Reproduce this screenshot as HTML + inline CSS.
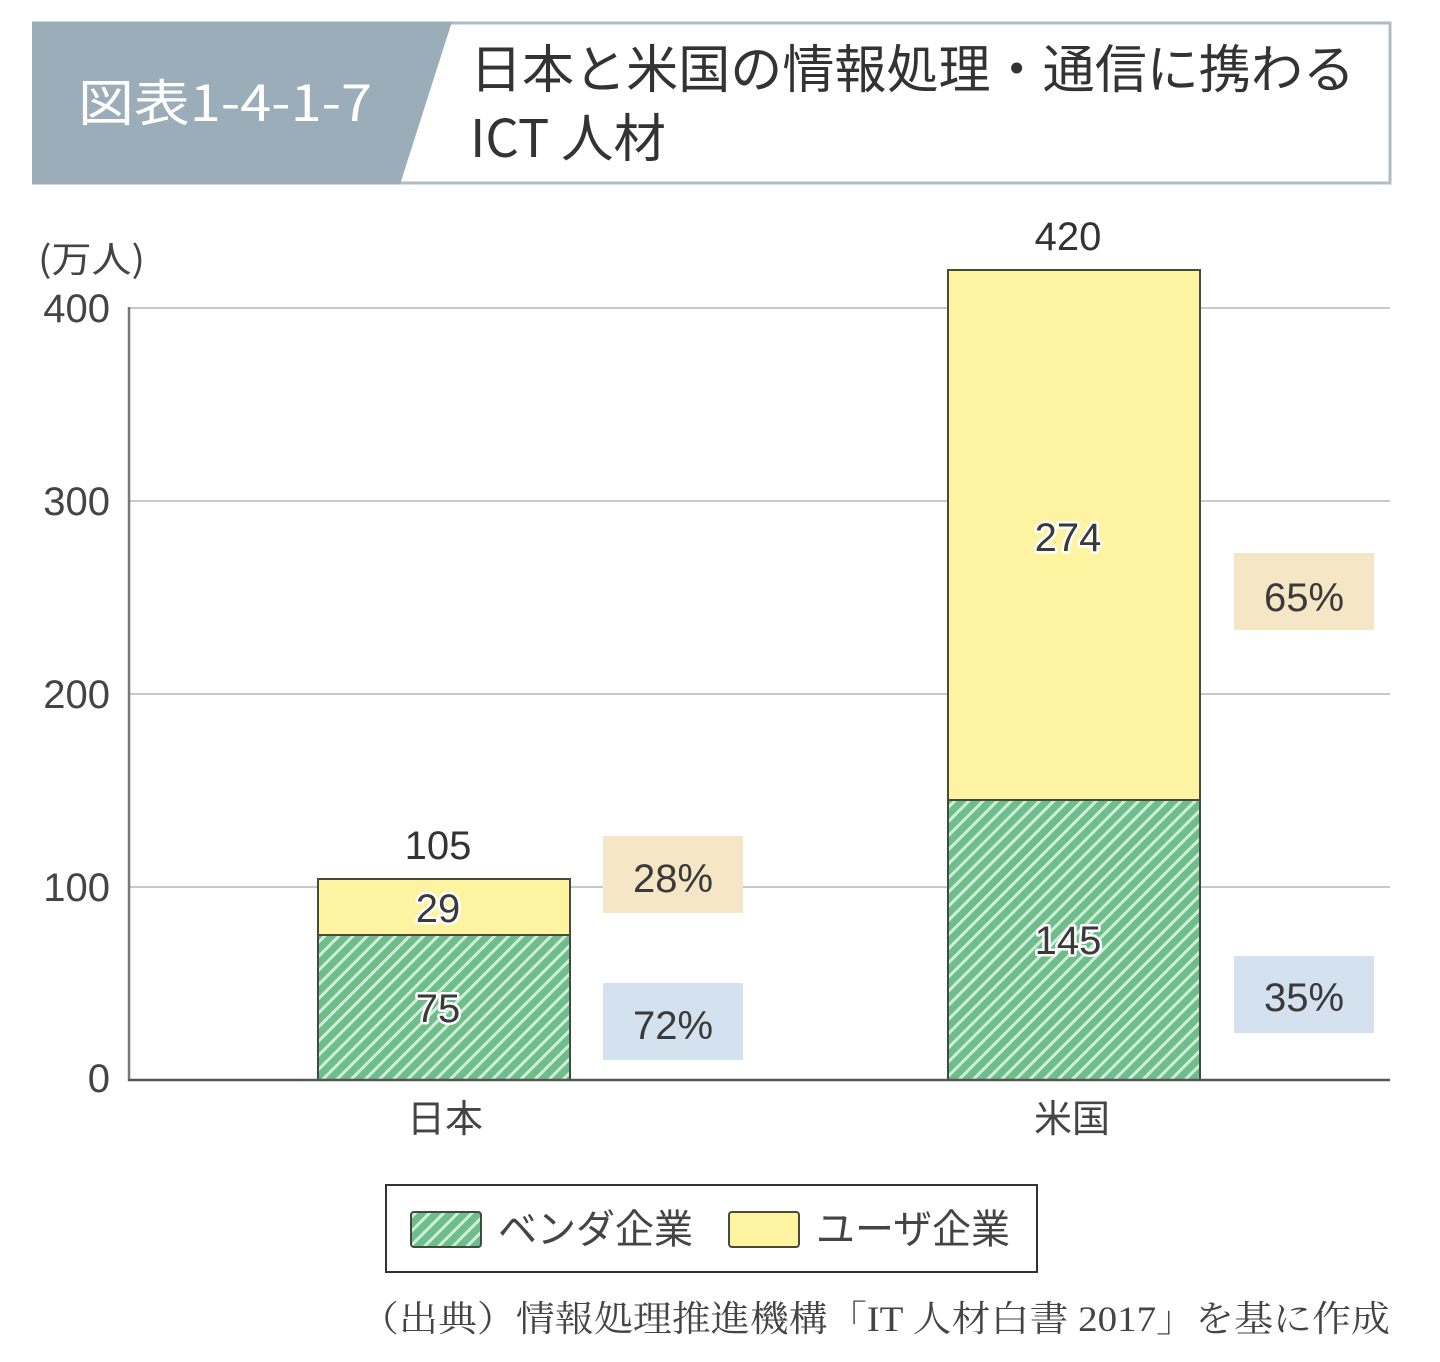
<!DOCTYPE html>
<html><head><meta charset="utf-8">
<style>
html,body{margin:0;padding:0;background:#fff;}
svg{display:block;}
text{font-family:"Liberation Sans","Noto Sans CJK JP",sans-serif;}
.jp{font-family:"Noto Sans CJK JP",sans-serif;}
.serif{font-family:"Liberation Serif","Noto Serif CJK SC",serif;}
.lbl{fill:#3a3a3a;stroke:#fff;stroke-width:5px;paint-order:stroke;stroke-linejoin:round;}
</style></head>
<body>
<svg width="1440" height="1362" viewBox="0 0 1440 1362" xmlns="http://www.w3.org/2000/svg">
<defs>
<pattern id="hatch" patternUnits="userSpaceOnUse" width="10" height="10" patternTransform="rotate(45)">
<rect width="10" height="10" fill="#6fbd8b"/>
<rect x="0" y="0" width="3" height="10" fill="#cdeed8"/>
</pattern>
</defs>

<!-- Header -->
<rect x="34" y="23" width="1356" height="160" fill="#fff" stroke="#aebcc6" stroke-width="3"/>
<polygon points="32,21.5 452,21.5 400,184.5 32,184.5" fill="#9badb8"/>
<text x="78" y="121" font-size="50" fill="#fff" class="jp" textLength="294" lengthAdjust="spacingAndGlyphs">図表1-4-1-7</text>
<text x="470" y="88" font-size="52" fill="#333" class="jp" textLength="885" lengthAdjust="spacingAndGlyphs">日本と米国の情報処理・通信に携わる</text>
<text x="470" y="157" font-size="52" fill="#333" class="jp" textLength="196" lengthAdjust="spacingAndGlyphs">ICT 人材</text>

<!-- Unit -->
<text x="38" y="272" font-size="36" fill="#444" class="jp" textLength="107" lengthAdjust="spacingAndGlyphs">(万人)</text>

<!-- Gridlines -->
<g stroke="#c9c9c9" stroke-width="2">
<line x1="129" y1="308" x2="1390" y2="308"/>
<line x1="129" y1="501" x2="1390" y2="501"/>
<line x1="129" y1="694" x2="1390" y2="694"/>
<line x1="129" y1="887" x2="1390" y2="887"/>
</g>

<!-- Y tick labels -->
<g font-size="40" fill="#444" text-anchor="end" class="jp">
<text x="110" y="322">400</text>
<text x="110" y="515">300</text>
<text x="110" y="708">200</text>
<text x="110" y="901">100</text>
<text x="110" y="1092">0</text>
</g>

<!-- Bars Japan -->
<rect x="318" y="935" width="252" height="145" fill="url(#hatch)" stroke="#3f4a40" stroke-width="2"/>
<rect x="318" y="879" width="252" height="56" fill="#fdf3a1" stroke="#4a4a3a" stroke-width="2"/>
<!-- Bars US -->
<rect x="948" y="800" width="252" height="280" fill="url(#hatch)" stroke="#3f4a40" stroke-width="2"/>
<rect x="948" y="270" width="252" height="530" fill="#fdf3a1" stroke="#4a4a3a" stroke-width="2"/>

<!-- Axes -->
<line x1="129" y1="307" x2="129" y2="1081" stroke="#777" stroke-width="2.5"/>
<line x1="128" y1="1080" x2="1390" y2="1080" stroke="#555" stroke-width="2.5"/>

<!-- Totals -->
<g font-size="40" fill="#333" text-anchor="middle" class="jp">
<text x="438" y="859">105</text>
<text x="1068" y="250">420</text>
</g>
<!-- Segment labels -->
<g font-size="40" text-anchor="middle" class="jp lbl">
<text x="438" y="922">29</text>
<text x="438" y="1022">75</text>
<text x="1068" y="551">274</text>
<text x="1068" y="954">145</text>
</g>

<!-- Percent boxes -->
<rect x="603" y="836" width="140" height="77" fill="#f5e6c6"/>
<rect x="603" y="983" width="140" height="77" fill="#d4e1ee"/>
<rect x="1234" y="553" width="140" height="77" fill="#f5e6c6"/>
<rect x="1234" y="956" width="140" height="77" fill="#d4e1ee"/>
<g font-size="40" fill="#3a3a3a" text-anchor="middle" class="jp">
<text x="673" y="892">28%</text>
<text x="673" y="1039">72%</text>
<text x="1304" y="611">65%</text>
<text x="1304" y="1011">35%</text>
</g>

<!-- Category labels -->
<g font-size="38" fill="#444" text-anchor="middle" class="jp">
<text x="445" y="1132">日本</text>
<text x="1072" y="1132">米国</text>
</g>

<!-- Legend -->
<rect x="386" y="1185" width="651" height="87" fill="#fff" stroke="#333" stroke-width="2"/>
<rect x="411" y="1212" width="70" height="35" rx="3" fill="url(#hatch)" stroke="#3f4a40" stroke-width="2"/>
<rect x="729" y="1212" width="70" height="35" rx="3" fill="#fdf3a1" stroke="#4a4a3a" stroke-width="2"/>
<g font-size="40" fill="#444" class="jp">
<text x="498" y="1243" textLength="195" lengthAdjust="spacingAndGlyphs">ベンダ企業</text>
<text x="816" y="1243" textLength="194" lengthAdjust="spacingAndGlyphs">ユーザ企業</text>
</g>

<!-- Source -->
<text x="360" y="1331" font-size="36" fill="#444" class="serif" textLength="1030" lengthAdjust="spacingAndGlyphs">（出典）情報処理推進機構「IT 人材白書 2017」を基に作成</text>
</svg>
</body></html>
